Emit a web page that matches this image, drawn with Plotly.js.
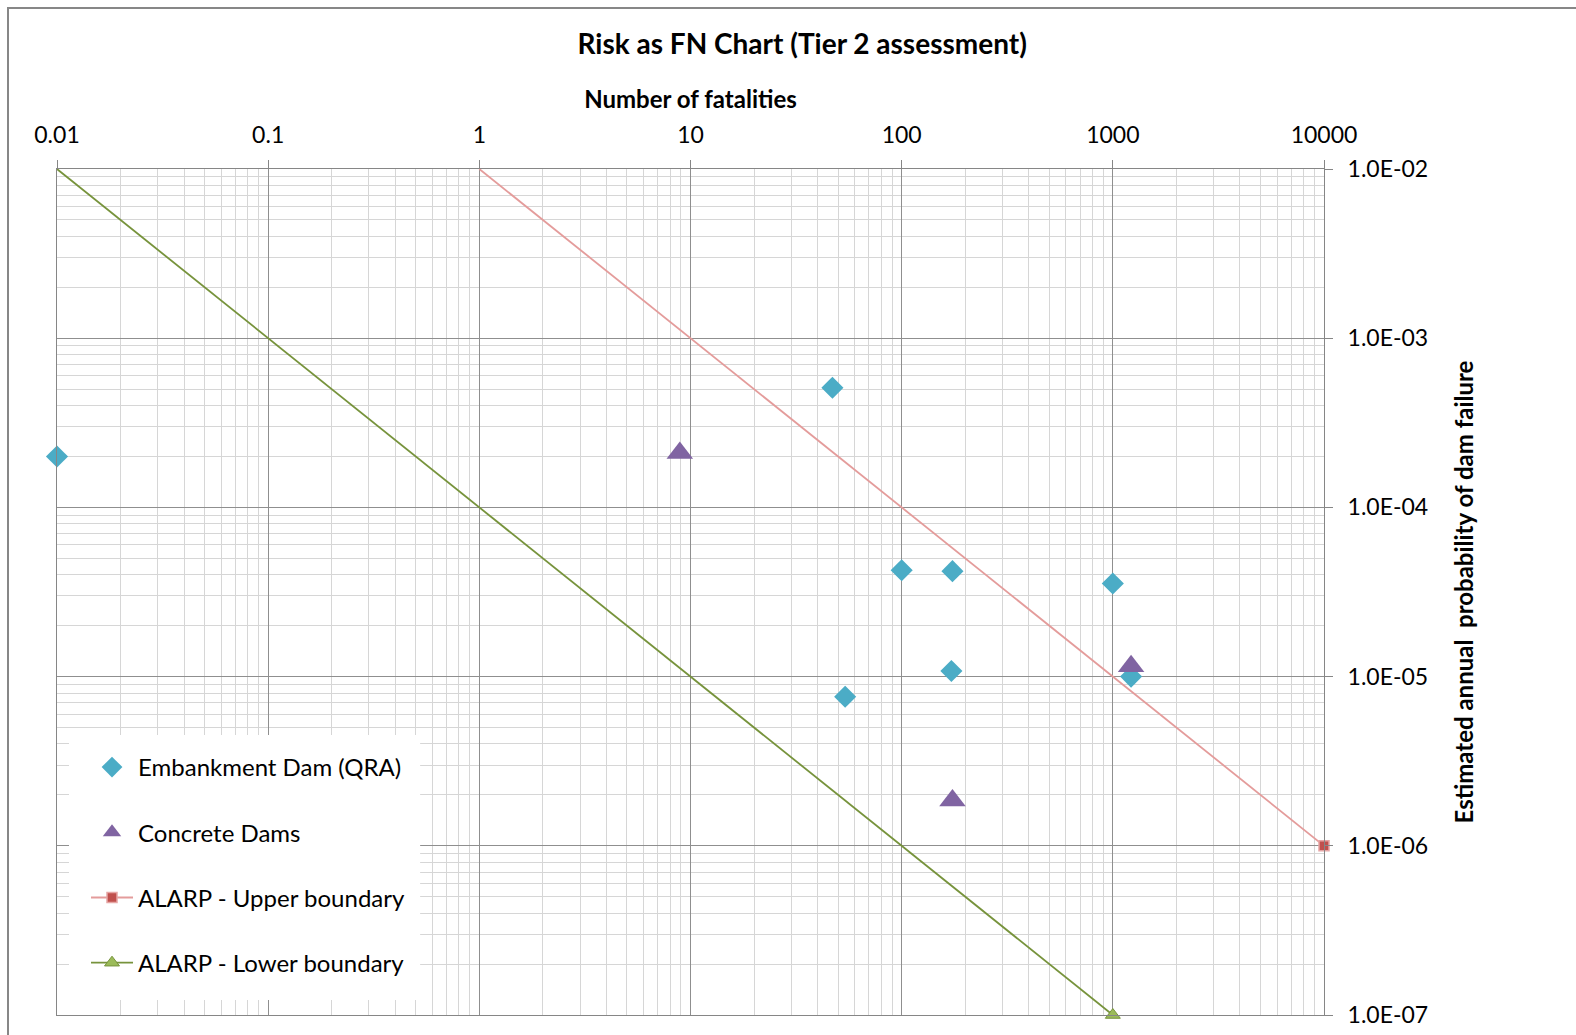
<!DOCTYPE html>
<html>
<head>
<meta charset="utf-8">
<script src="https://cdn.plot.ly/plotly-3.0.1.min.js"></script>
<style>
  html, body { margin: 0; padding: 0; background: #ffffff; }
  #wrap { position: relative; width: 1576px; height: 1035px; overflow: hidden; }
  #chart { position: absolute; left: 0; top: 0; width: 1576px; height: 1035px; }
  #frame { position: absolute; left: 7px; top: 7px; width: 1600px; height: 1100px;
           border: 2px solid #878787; pointer-events: none; }
</style>
</head>
<body>
<div id="wrap">
  <div id="chart"></div>
  <div id="frame"></div>
</div>
<script>
// ---- data ----
const embankmentX = [0.01, 47, 100, 174, 1000, 172, 54, 1220];
const embankmentY = [2.0e-4, 5.1e-4, 4.25e-5, 4.2e-5, 3.55e-5, 1.08e-5, 7.6e-6, 1.0e-5];

const concreteX = [8.9, 1220, 174];
const concreteY = [2.1e-4, 1.15e-5, 1.85e-6];

const upperX = [1, 10000];
const upperY = [1e-2, 1e-6];

const lowerX = [0.01, 1000];
const lowerY = [1e-2, 1e-7];

const xTickVals = [0.01, 0.1, 1, 10, 100, 1000, 10000];
const xTickText = ["0.01", "0.1", "1", "10", "100", "1000", "10000"];
const yTickVals = [1e-2, 1e-3, 1e-4, 1e-5, 1e-6, 1e-7];
const yTickText = ["1.0E-02", "1.0E-03", "1.0E-04", "1.0E-05", "1.0E-06", "1.0E-07"];

const FONT = "Lato, 'Open Sans', sans-serif";

const traces = [
  {
    name: "Embankment Dam (QRA)", legendgroup: "a",
    x: embankmentX, y: embankmentY, type: "scatter", mode: "markers",
    marker: { symbol: "diamond", size: 17, color: "#4bacc6" },
    cliponaxis: false
  },
  {
    name: "Concrete Dams", legendgroup: "b",
    x: concreteX, y: concreteY, type: "scatter", mode: "markers",
    marker: { symbol: "triangle-up", size: 23, color: "#8064a2" },
    cliponaxis: false
  },
  {
    name: "ALARP - Upper boundary", legendgroup: "c", showlegend: false,
    x: upperX, y: upperY, type: "scatter", mode: "lines",
    line: { color: "#e49c9b", width: 1.8 },
    cliponaxis: false, hoverinfo: "skip"
  },
  {
    name: "ALARP - Upper boundary", legendgroup: "c",
    x: upperX.slice(1), y: upperY.slice(1), type: "scatter", mode: "lines+markers",
    line: { color: "#e49c9b", width: 1.8 },
    marker: { symbol: "square", size: 10, color: "#c0504d", line: { color: "#e6a6a5", width: 1.5 } },
    cliponaxis: false
  },
  {
    name: "ALARP - Lower boundary", legendgroup: "d",
    x: lowerX, y: lowerY, type: "scatter", mode: "lines+markers",
    line: { color: "#77933c", width: 1.8 },
    marker: { symbol: "triangle-up", size: 13, color: "#9bbb59", line: { color: "#77933c", width: 1 } },
    cliponaxis: false
  }
];

const layout = {
  width: 1576, height: 1035,
  paper_bgcolor: "#ffffff", plot_bgcolor: "#ffffff",
  margin: { l: 57, r: 252, t: 169, b: 20, pad: 0 },
  font: { family: FONT, size: 22, color: "#000000" },
  showlegend: true,
  title: {
    text: "<b>Risk as FN Chart (Tier 2 assessment)</b>",
    font: { family: FONT, size: 28, color: "#000000" },
    x: 0.509, xref: "container", xanchor: "center",
    y: 1 - 44 / 1035, yref: "container", yanchor: "middle"
  },
  xaxis: {
    type: "log", range: [-2, 4], side: "top",
    tickmode: "array", tickvals: xTickVals, ticktext: xTickText,
    ticks: "outside", ticklen: 8, tickcolor: "#868686", tickwidth: 1,
    ticklabelstandoff: 8,
    showgrid: true, gridcolor: "#8f8f8f", gridwidth: 1,
    minor: { dtick: "D1", showgrid: true, gridcolor: "#d6d6d6", gridwidth: 1, ticks: "" },
    showline: true, linecolor: "#868686", linewidth: 1, mirror: true,
    zeroline: false,
    tickfont: { family: FONT, size: 23, color: "#000000" },
    title: { text: "<b>Number of fatalities</b>", font: { family: FONT, size: 24, color: "#000000" }, standoff: 4 },
    automargin: false, fixedrange: true
  },
  yaxis: {
    type: "log", range: [-7, -2], side: "right",
    tickmode: "array", tickvals: yTickVals, ticktext: yTickText,
    ticks: "outside", ticklen: 8, tickcolor: "#868686", tickwidth: 1,
    ticklabelstandoff: 10,
    showgrid: true, gridcolor: "#8f8f8f", gridwidth: 1,
    minor: { dtick: "D1", showgrid: true, gridcolor: "#d6d6d6", gridwidth: 1, ticks: "" },
    showline: true, linecolor: "#868686", linewidth: 1, mirror: true,
    zeroline: false,
    tickfont: { family: FONT, size: 23, color: "#000000" },
    title: { text: "<b>Estimated annual  probability of dam failure</b>", font: { family: FONT, size: 24, color: "#000000" }, standoff: 28 },
    automargin: false, fixedrange: true
  },
  legend: {
    x: (86 - 57) / 1266.5, xanchor: "left",
    y: 1 - (745 - 169) / 846, yanchor: "top",
    bgcolor: "rgba(0,0,0,0)", borderwidth: 0,
    itemwidth: 42, tracegroupgap: 31, traceorder: "grouped",
    font: { family: FONT, size: 24, color: "#000000" }
  },
  shapes: [
    { type: "rect", layer: "above", xref: "paper", yref: "paper",
      x0: (69 - 57) / 1266.5, x1: (420 - 57) / 1266.5,
      y0: 1 - (1000 - 169) / 846, y1: 1 - (735 - 169) / 846,
      fillcolor: "#ffffff", line: { width: 0 } }
  ]
};

Plotly.newPlot("chart", traces, layout, { displayModeBar: false, staticPlot: true });
</script>
</body>
</html>
